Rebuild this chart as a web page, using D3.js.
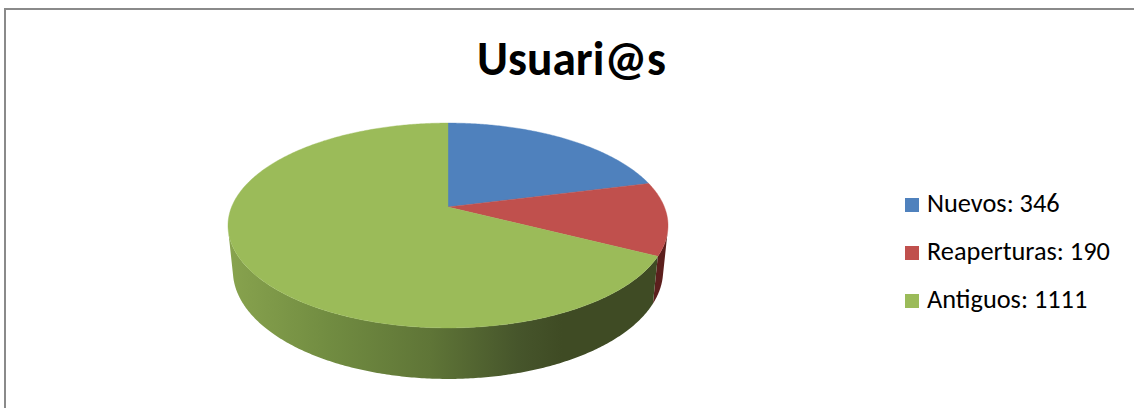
<!DOCTYPE html>
<html>
<head>
<meta charset="utf-8">
<script src="https://cdn.jsdelivr.net/npm/d3@7"></script>
<style>
html,body{margin:0;padding:0;background:#fff;}
svg{display:block;}
</style>
</head>
<body>
<svg id="chart" width="1134" height="408"></svg>
<script>
const title = "Usuari@s";
const categories = ["Nuevos", "Reaperturas", "Antiguos"];
const values = [346, 190, 1111];
const topColors = ["#4F81BD", "#C0504D", "#9BBB59"];
const wallColors = ["#2c4a70", "#5c1f1d", "url(#greenSide)"];

const W = 1134, H = 408;
const svg = d3.select("#chart");

// frame
svg.append("rect").attr("x", 5).attr("y", 9).attr("width", W).attr("height", H)
  .attr("fill", "#fff").attr("stroke", "#8a8a8a").attr("stroke-width", 2);

// gradient for the green side wall
const defs = svg.append("defs");
const g1 = defs.append("linearGradient").attr("id", "greenSide")
  .attr("gradientUnits", "userSpaceOnUse").attr("x1", 228).attr("x2", 668).attr("y1", 0).attr("y2", 0);
[[0, "#88a34e"], [0.23, "#718c41"], [0.46, "#5f7537"], [0.66, "#46552b"], [0.76, "#3f4b24"], [1, "#3f4b24"]]
  .forEach(([o, c]) => g1.append("stop").attr("offset", o).attr("stop-color", c));

// perspective projection parameters for the 3D pie
const cx = 448, cy = 207, A = 216.4;
const phi = Math.asin(0.458), k = 0.203, h = 0.237;
function proj(theta, z) {
  const x = Math.sin(theta), y = Math.cos(theta);
  const d = 1 + k * (y * Math.cos(phi) - z * Math.sin(phi));
  return [cx + A * x / d, cy - A * (z * Math.cos(phi) + y * Math.sin(phi)) / d];
}
function arcPts(a0, a1, z) {
  const n = Math.max(2, Math.ceil((a1 - a0) / 0.01));
  return d3.range(n + 1).map(i => proj(a0 + (a1 - a0) * i / n, z));
}
const line = d3.line();

const arcs = d3.pie().sort(null).startAngle(0).endAngle(2 * Math.PI)(values);

// visible outer-wall range
const vis0 = Math.acos(-k / Math.cos(phi)), vis1 = 2 * Math.PI - vis0;
const gWalls = svg.append("g");
arcs.forEach((a, i) => {
  const s = Math.max(a.startAngle, vis0), e = Math.min(a.endAngle, vis1);
  if (e <= s) return;
  const pts = arcPts(s, e, 0).concat(arcPts(s, e, -h).reverse());
  gWalls.append("path").attr("d", line(pts) + "Z").attr("fill", wallColors[i]);
});

// top faces
const gTop = svg.append("g");
arcs.forEach((a, i) => {
  const pts = [proj(0, 0).map((v, j) => j === 0 ? cx : cy)].concat(arcPts(a.startAngle, a.endAngle, 0));
  gTop.append("path").attr("d", line(pts) + "Z").attr("fill", topColors[i])
    .attr("stroke", topColors[i]).attr("stroke-width", 0.4);
});

// title
const fontFam = "Calibri, Carlito, 'Open Sans', 'Liberation Sans', sans-serif";
const t = svg.append("text").attr("x", 571.5).attr("y", 75).attr("text-anchor", "middle")
  .attr("font-family", fontFam).attr("font-weight", "bold").attr("font-size", 46)
  .attr("fill", "#000").text(title);
const tw = t.node().getComputedTextLength();
t.attr("font-size", 46 * 189 / tw);

// legend
const legY = d3.scalePoint().domain(categories).range([212, 308]);
const leg = svg.append("g");
categories.forEach((c, i) => {
  const y = legY(c);
  leg.append("rect").attr("x", 905).attr("y", y - 14).attr("width", 14).attr("height", 14)
    .attr("fill", topColors[i]);
  leg.append("text").attr("class", "lt").attr("x", 927).attr("y", y)
    .attr("font-family", fontFam).attr("font-size", 22).attr("fill", "#000")
    .text(c + ": " + values[i]);
});
const lt = leg.selectAll("text.lt").nodes();
const w1 = lt[1].getComputedTextLength();
leg.selectAll("text.lt").attr("font-size", 22 * 183 / w1);
</script>
</body>
</html>
